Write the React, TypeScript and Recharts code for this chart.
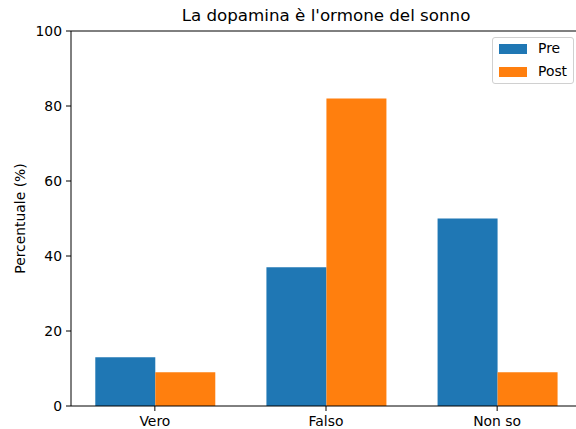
import { BarChart, Bar, XAxis, YAxis, ReferenceLine } from "recharts";

const categories = ["Vero", "Falso", "Non so"];
const preValues = [13, 37, 50];
const postValues = [9, 82, 9];
const yTicks = [0, 20, 40, 60, 80, 100];

const data = categories.map((c, i) => ({ x: i, name: c, Pre: preValues[i], Post: postValues[i] }));

const FONT = "DejaVu Sans, sans-serif";
const FS = 13.9;

function LegendBox() {
  return (
    <div
      style={{
        position: "absolute",
        left: 492,
        top: 37,
        border: "1px solid #d0d0d0",
        borderRadius: 3,
        background: "white",
        width: 82,
        height: 47,
        boxSizing: "border-box",
        fontFamily: FONT,
        fontSize: FS,
        color: "#000",
      }}
    >
      <div style={{ position: "absolute", left: 6, top: 6, width: 28, height: 10, background: "#1f77b4" }} />
      <div style={{ position: "absolute", left: 45, top: 1, lineHeight: "18px" }}>Pre</div>
      <div style={{ position: "absolute", left: 6, top: 29, width: 28, height: 10, background: "#ff7f0e" }} />
      <div style={{ position: "absolute", left: 45, top: 24, lineHeight: "18px" }}>Post</div>
    </div>
  );
}

export default function App() {
  // the axes run a little past the right edge of the picture, as in the original crop
  return (
    <div
      style={{
        position: "absolute",
        left: 0,
        top: 0,
        width: 576,
        height: 429,
        overflow: "hidden",
        background: "white",
      }}
    >
      <div
        style={{
          position: "absolute",
          top: 5,
          left: 71,
          width: 510,
          textAlign: "center",
          fontFamily: FONT,
          fontSize: 16.7,
          color: "#000",
        }}
      >
        La dopamina è l'ormone del sonno
      </div>
      <BarChart
        width={582}
        height={429}
        data={data}
        margin={{ top: 31, right: 1, bottom: 0, left: 0 }}
        barGap={0}
      >
        <XAxis
          dataKey="x"
          type="number"
          domain={[-0.49, 2.49]}
          ticks={[0, 1, 2]}
          tickFormatter={(v) => categories[v] ?? ""}
          height={23}
          stroke="#000"
          tickLine={{ stroke: "#000" }}
          tickSize={5}
          tickMargin={5}
          tick={{ fill: "#000", fontSize: FS, fontFamily: FONT }}
          allowDataOverflow
        />
        <YAxis
          domain={[0, 100]}
          ticks={yTicks}
          width={71}
          stroke="#000"
          tickLine={{ stroke: "#000" }}
          tickSize={5}
          tickMargin={4}
          tick={{ fill: "#000", fontSize: FS, fontFamily: FONT }}
          label={{
            value: "Percentuale (%)",
            angle: -90,
            position: "insideLeft",
            offset: 20,
            style: { textAnchor: "middle", fill: "#000", fontSize: FS, fontFamily: FONT },
          }}
        />
        <ReferenceLine y={100} stroke="#000" />
        <Bar dataKey="Pre" fill="#1f77b4" barSize={60} isAnimationActive={false} />
        <Bar dataKey="Post" fill="#ff7f0e" barSize={60} isAnimationActive={false} />
      </BarChart>
      <LegendBox />
    </div>
  );
}
